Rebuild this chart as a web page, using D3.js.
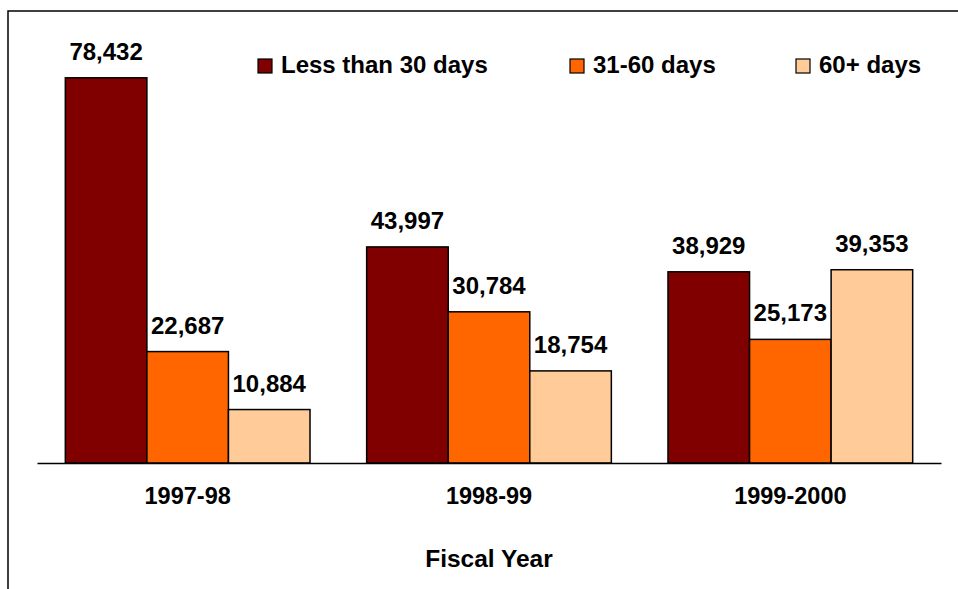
<!DOCTYPE html>
<html>
<head>
<meta charset="utf-8">
<script src="https://cdn.jsdelivr.net/npm/d3@7"></script>
<style>
  body { margin: 0; background: #fff; }
  text { font-family: "Liberation Sans", Arial, sans-serif; font-weight: bold; fill: #000; }
</style>
</head>
<body>
<div id="chart"></div>
<script>
// Data
var years = ["1997-98", "1998-99", "1999-2000"];
var seriesNames = ["Less than 30 days", "31-60 days", "60+ days"];
var lessThan30 = [78432, 43997, 38929];
var days31to60 = [22687, 30784, 25173];
var days60plus = [10884, 18754, 39353];
var colors = ["#800000", "#FF6600", "#FFCC99"];

var seriesValues = [lessThan30, days31to60, days60plus];
var data = years.map(function (y, i) {
  return { year: y, values: seriesValues.map(function (s, j) { return { key: seriesNames[j], value: s[i] }; }) };
});

var width = 958, height = 589;
var margin = { top: 21, left: 37, right: 17, bottom: 126 };

var svg = d3.select("#chart").append("svg")
  .attr("width", width)
  .attr("height", height);

// outer frame (cut off on right and bottom like the original)
svg.append("rect")
  .attr("x", 8).attr("y", 11)
  .attr("width", 1000).attr("height", 700)
  .attr("fill", "none")
  .attr("stroke", "#000")
  .attr("stroke-width", 1.5);

var x0 = d3.scaleBand()
  .domain(years)
  .range([margin.left, width - margin.right])
  .paddingInner(0.188)
  .paddingOuter(0.094);

var x1 = d3.scaleBand()
  .domain(seriesNames)
  .range([0, x0.bandwidth()]);

var yScale = d3.scaleLinear()
  .domain([0, 90000])
  .range([height - margin.bottom, margin.top]);

var fmt = d3.format(",");

var groups = svg.selectAll(".group")
  .data(data)
  .enter().append("g")
  .attr("class", "group")
  .attr("transform", function (d) { return "translate(" + x0(d.year) + ",0)"; });

groups.selectAll("rect")
  .data(function (d) { return d.values; })
  .enter().append("rect")
  .attr("x", function (d) { return x1(d.key); })
  .attr("y", function (d) { return yScale(d.value); })
  .attr("width", x1.bandwidth())
  .attr("height", function (d) { return yScale(0) - yScale(d.value); })
  .attr("fill", function (d, i) { return colors[i]; })
  .attr("stroke", "#000")
  .attr("stroke-width", 1.5);

groups.selectAll(".val")
  .data(function (d) { return d.values; })
  .enter().append("text")
  .attr("class", "val")
  .attr("x", function (d) { return x1(d.key) + x1.bandwidth() / 2; })
  .attr("y", function (d) { return yScale(d.value) - 18; })
  .attr("text-anchor", "middle")
  .style("font-size", "24px")
  .text(function (d) { return fmt(d.value); });

// x axis: baseline + labels, no ticks
var xAxis = d3.axisBottom(x0).tickSize(0).tickPadding(24);
var axisG = svg.append("g")
  .attr("transform", "translate(0," + yScale(0) + ")")
  .call(xAxis);
axisG.select(".domain").attr("stroke", "#000").attr("stroke-width", 1.5);
axisG.selectAll("text")
  .attr("font-family", null)
  .style("font-size", "23.5px")
  .attr("dy", "0.71em");

svg.append("text")
  .attr("x", (margin.left + width - margin.right) / 2)
  .attr("y", 567)
  .attr("text-anchor", "middle")
  .style("font-size", "24.5px")
  .text("Fiscal Year");

// legend
var legendX = [258, 570, 796];
var legend = svg.selectAll(".legend")
  .data(seriesNames)
  .enter().append("g")
  .attr("class", "legend")
  .attr("transform", function (d, i) { return "translate(" + legendX[i] + ",59)"; });

legend.append("rect")
  .attr("width", 14).attr("height", 14)
  .attr("fill", function (d, i) { return colors[i]; })
  .attr("stroke", "#000")
  .attr("stroke-width", 1.2);

legend.append("text")
  .attr("x", 23)
  .attr("y", 14)
  .style("font-size", "24px")
  .text(function (d) { return d; });
</script>
</body>
</html>
